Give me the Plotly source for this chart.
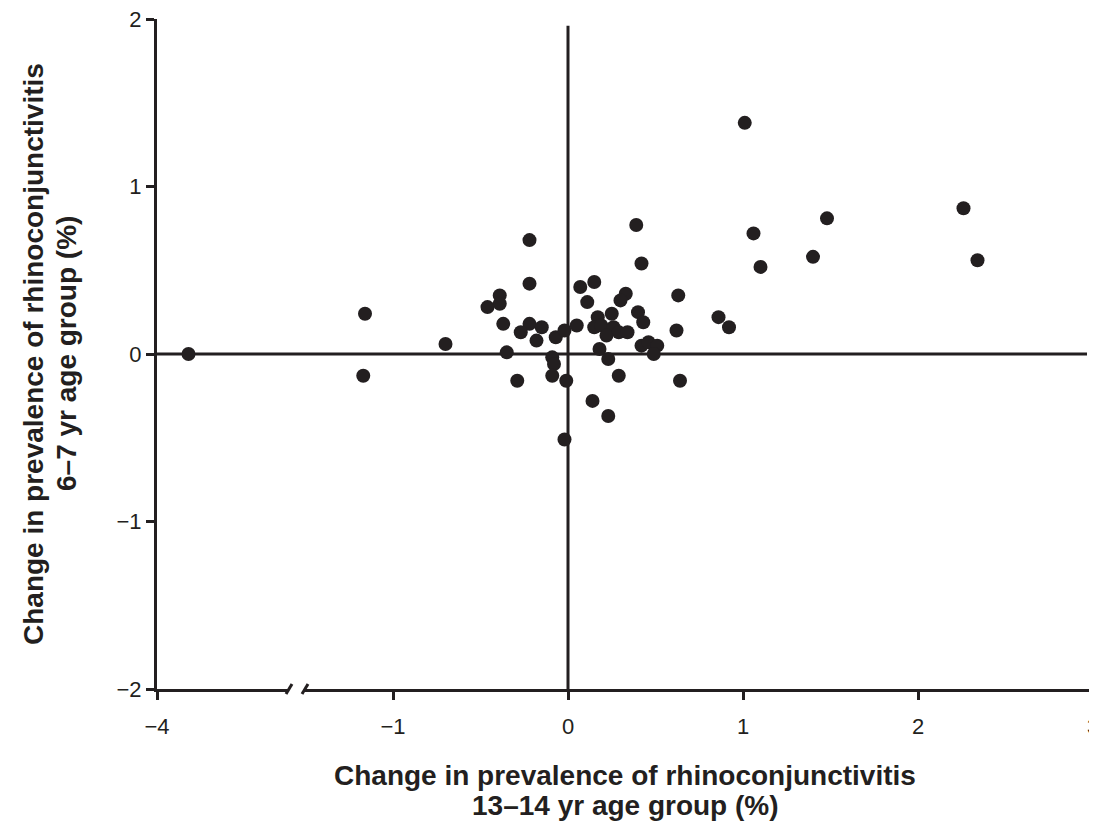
import plotly.graph_objects as go

# Change in prevalence (%) : 13-14 yr group (x) vs 6-7 yr group (y)
x_change_13_14 = [
    0.39, -0.22, 0.42, -0.22, 0.07, 0.15, -0.39, 0.33, 0.30, 0.11,
    -0.39, -0.46, 0.63, 0.86, 0.40, 0.43, 0.25, 0.17, -0.37, -0.22,
    -0.15, -0.27, -0.18, -0.07, -0.02, 0.05, 0.15, 0.19, 0.26, 0.22,
    0.29, 0.34, 0.62, 0.42, 0.46, 0.51, 0.49, -0.70, -0.35, 0.18,
    0.23, -0.09, -0.08, -0.09, -0.01, -0.29, 0.29, 0.64, 0.14, 0.23,
    -0.02, 0.92, 1.01, 2.26, 1.48, 1.06, 1.40, 2.34, 1.10, -3.82,
    -1.16, -1.17,
]
y_change_6_7 = [
    0.77, 0.68, 0.54, 0.42, 0.40, 0.43, 0.35, 0.36, 0.32, 0.31,
    0.30, 0.28, 0.35, 0.22, 0.25, 0.19, 0.24, 0.22, 0.18, 0.18,
    0.16, 0.13, 0.08, 0.10, 0.14, 0.17, 0.16, 0.17, 0.16, 0.11,
    0.13, 0.13, 0.14, 0.05, 0.07, 0.05, 0.00, 0.06, 0.01, 0.03,
    -0.03, -0.02, -0.06, -0.13, -0.16, -0.16, -0.13, -0.16, -0.28, -0.37,
    -0.51, 0.16, 1.38, 0.87, 0.81, 0.72, 0.58, 0.56, 0.52, 0.00,
    0.24, -0.13,
]

x_ticks_left = [-4]
x_ticks_right = [-1, 0, 1, 2, 3]
y_ticks = [-2, -1, 0, 1, 2]

x_title = ["Change in prevalence of rhinoconjunctivitis", "13–14 yr age group (%)"]
y_title = ["Change in prevalence of rhinoconjunctivitis", "6–7 yr age group (%)"]

BREAK = -2  # values below this go on the left (broken) segment

INK = "#231f20"
FONT = "Liberation Sans, Arial, Helvetica, sans-serif"

lx = [x for x in x_change_13_14 if x < BREAK]
ly = [y for x, y in zip(x_change_13_14, y_change_6_7) if x < BREAK]
rx = [x for x in x_change_13_14 if x >= BREAK]
ry = [y for x, y in zip(x_change_13_14, y_change_6_7) if x >= BREAK]

# page body has an 8px margin: plot area lands at x 157..1093, y 19..689
W, H = 1089, 814
ML, MT, PW, PH = 149, 11, 936, 670
MR = W - ML - PW
MB = H - MT - PH
d1 = (289 - 157) / PW
d2 = (305 - 157) / PW

fig = go.Figure()
marker = dict(size=14, color=INK, line=dict(width=0))
fig.add_trace(go.Scatter(x=lx, y=ly, mode="markers", marker=marker,
                         xaxis="x", yaxis="y", showlegend=False, cliponaxis=False))
fig.add_trace(go.Scatter(x=rx, y=ry, mode="markers", marker=marker,
                         xaxis="x2", yaxis="y", showlegend=False, cliponaxis=False))

axis_common = dict(
    showline=True, linecolor=INK, linewidth=3,
    ticks="outside", ticklen=8, tickwidth=3, tickcolor=INK,
    showgrid=False, zeroline=False, ticklabeloverflow="allow", automargin=False,
    tickfont=dict(family=FONT, size=22, color=INK),
)

fig.update_layout(
    width=W, height=H,
    margin=dict(l=ML, r=MR, t=MT, b=MB, autoexpand=False),
    paper_bgcolor="white", plot_bgcolor="white",
    xaxis=dict(domain=[0, d1], range=[-4, -4 + (289 - 157) / 175],
               tickvals=x_ticks_left, anchor="y", ticklabelstandoff=8, **axis_common),
    xaxis2=dict(domain=[d2, 1], range=[-1 - (393 - 305) / 175, 3],
                tickvals=x_ticks_right, anchor="y", ticklabelstandoff=8, **axis_common),
    yaxis=dict(range=[-2, 2], tickvals=y_ticks, anchor="x", **axis_common),
)

# reference lines at x=0 and y=0
fig.add_shape(type="line", xref="paper", yref="y", x0=0, x1=(1087 - 157) / PW,
              y0=0, y1=0, line=dict(color=INK, width=3), layer="below")
fig.add_shape(type="line", xref="x2", yref="y", x0=0, x1=0,
              y0=-2, y1=1.96, line=dict(color=INK, width=3), layer="below")

# axis break marks
for xb in (d1, d2):
    fig.add_shape(type="line", xref="paper", yref="paper",
                  x0=xb - 3 / PW, x1=xb + 3 / PW,
                  y0=-5 / PH, y1=5 / PH, line=dict(color=INK, width=3))

tfont = dict(family=FONT, size=28, color=INK)
for text, shift in zip(x_title, (-86, -116)):
    fig.add_annotation(xref="paper", yref="paper", x=0.5, y=0, yshift=shift,
                       yanchor="middle", xanchor="center", showarrow=False,
                       text=f"<b>{text}</b>", font=tfont)
for text, shift in zip(y_title, (-124, -91)):
    fig.add_annotation(xref="paper", yref="paper", x=0, xshift=shift, y=0.5,
                       xanchor="center", yanchor="middle", showarrow=False,
                       textangle=-90, text=f"<b>{text}</b>", font=tfont)

# keep the page from growing scrollbars (body margin + full-height figure)
post = ("document.documentElement.style.overflow='hidden';"
        "document.body.style.overflow='hidden';")
fig.write_html("out.html", post_script=post)
